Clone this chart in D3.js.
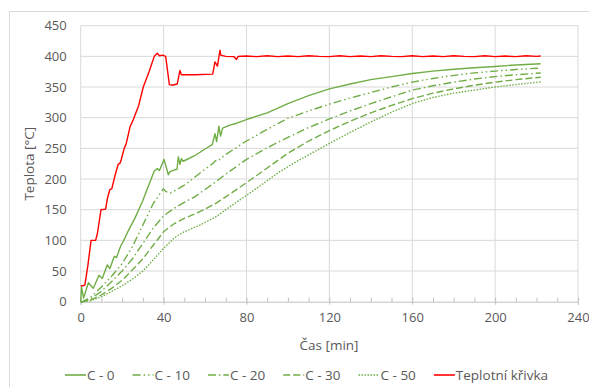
<!DOCTYPE html>
<html>
<head>
<meta charset="utf-8">
<script src="https://cdn.jsdelivr.net/npm/d3@7"></script>
<style>
  body { margin: 0; background: #fff; }
  text { font-family: "Open Sans", sans-serif; fill: #595959; }
</style>
</head>
<body>
<svg width="589" height="387"></svg>
<script>
let width = 589;
let height = 387;

// tick labels
let xTicks = [0, 40, 80, 120, 160, 200, 240];
let yTicks = [0, 50, 100, 150, 200, 250, 300, 350, 400, 450];

// series: [time min, temperature °C]
let c0 = [[0,0],[0.4,24],[1.4,6],[3.7,31],[6.1,22],[8.8,43],[10.4,38],[12.8,60],[14.1,54],[16.2,74],[17.3,72],[19.2,90],[20.8,100],[23,116],[26,135],[28,150],[30,165],[32,183],[34,200],[35.5,213],[37,217],[38,214],[40.2,232],[42.3,207],[43.1,212],[44.7,214],[46.5,216],[47.1,236],[47.9,224],[48.6,233],[49.5,229],[55,238],[60,249],[63.5,256],[64.8,274],[65.6,261],[66.7,286],[67.5,270],[68.5,283],[72,288],[75.3,291],[80,297],[90,308],[96,317],[100,323],[110,336],[120,347],[130,355],[140,362],[150,367],[160,372],[170,376],[180,379],[190,381.5],[200,383.5],[210,386],[222,388]];
let c10 = [[0,0],[1,0],[5,8],[10,24],[15,42],[20,62],[25,90],[30,125],[35,160],[39.9,184],[41,180],[43,177],[45,180],[50,190],[55,203],[60,216],[64,226],[65,230],[66,229],[70,240],[80,262],[90,281],[96,292],[100,299],[110,311],[120,322],[130,332],[140,341],[150,350],[160,358],[170,364],[180,369],[190,373],[200,376],[210,378.5],[222,381]];
let c20 = [[0,0],[1,0],[5,5],[10,17],[15,33],[20,50],[25,70],[30,95],[35,120],[40,140],[45,152],[50,162],[55,171],[60,183],[65,195],[70,208],[80,232],[90,251],[100,268],[110,284],[120,298],[130,311],[140,323],[150,334],[160,345],[170,352],[180,358],[190,363],[200,367],[210,370],[222,373]];
let c30 = [[0,0],[1,0],[5,3],[10,11],[15,22],[20,35],[25,52],[30,70],[35,92],[40,114],[45,127],[50,136],[55,143],[60,151],[65,160],[70,171],[80,194],[90,218],[100,242],[110,262],[120,279],[130,294],[140,308],[150,320],[160,331],[170,340],[180,347],[190,353],[200,358],[210,362],[222,366]];
let c50 = [[0,0],[1,0],[5,2],[10,8],[15,17],[20,26],[25,37],[30,50],[33.4,62],[40,87],[45.5,105],[50,114],[57.5,125],[65.6,139],[70,150],[76.8,166],[85,185],[96,212],[105,230],[120,258],[130,276],[140,293],[150,309],[160,323],[170,333],[180,340],[190,345],[200,350],[210,354],[222,358.5]];
let red = [[0,26],[1,26],[2,27],[3.5,60],[5,100],[7.2,100],[8,110],[9.8,150],[12,151],[13,170],[14.1,183],[15,184],[16.5,205],[18.1,224],[19,226],[19.5,231],[21,250],[22,258],[23.8,285],[25.4,297],[28,320],[30.2,350],[33,375],[35.5,400],[37,405],[38,401],[39.5,402],[41,400],[42.8,354],[44,353],[46.6,355],[47.9,377],[48.6,370],[55,370],[63.7,371],[64.8,391],[66,384],[67.2,410],[67.6,402],[70,400],[74,399.5],[75.2,395],[76,400],[80,400.5],[85,399.5],[90,401],[95,399.5],[100,400.5],[105,399.5],[110,401],[115,400],[120,399.5],[125,401],[130,399.5],[135,400.5],[140,399.5],[145,401],[150,400],[155,399.5],[160,401],[165,399.5],[170,400.5],[175,399.5],[180,401],[185,400],[190,399.5],[195,401],[200,399.5],[205,400.5],[210,399.5],[215,401],[220,400],[222,400.5]];

let seriesNames = ['C - 0', 'C - 10', 'C - 20', 'C - 30', 'C - 50', 'Teplotní křivka'];
let seriesData = [c0, c10, c20, c30, c50, red];
let seriesColors = ['#70ad47', '#70ad47', '#70ad47', '#70ad47', '#70ad47', '#ff0000'];
let seriesDash = [null, '8,3,1.5,3,1.5,3', '8,3,1.5,3', '7,3', '1.5,1.5', null];

let xScale = d3.scaleLinear().domain([0, 240]).range([80.7, 578]);
let yScale = d3.scaleLinear().domain([0, 450]).range([301.7, 25.7]);

let svg = d3.select('svg');

// outer chart border
svg.append('rect')
    .attr('x', 9.5).attr('y', 11.5)
    .attr('width', 600).attr('height', 400)
    .attr('fill', 'none')
    .attr('stroke', '#d9d9d9');

// gridlines
svg.append('g')
  .selectAll('line')
  .data(yTicks.slice(1))
  .enter()
  .append('line')
    .attr('x1', xScale(0)).attr('x2', xScale(240))
    .attr('y1', d => yScale(d)).attr('y2', d => yScale(d))
    .attr('stroke', '#d9d9d9');

svg.append('g')
  .selectAll('line')
  .data(xTicks)
  .enter()
  .append('line')
    .attr('x1', d => xScale(d)).attr('x2', d => xScale(d))
    .attr('y1', yScale(0)).attr('y2', yScale(450))
    .attr('stroke', '#d9d9d9');

// x axis line with minor ticks inside
svg.append('g')
    .attr('transform', `translate(0,${yScale(0)})`)
    .call(d3.axisTop(xScale).ticks(24).tickSize(4).tickFormat(''))
    .call(g => g.select('.domain').remove())
    .call(g => g.selectAll('line').attr('stroke', '#bfbfbf'));

svg.append('g')
    .attr('transform', `translate(0,${yScale(0)})`)
    .call(d3.axisBottom(xScale).tickValues(xTicks).tickSize(3).tickPadding(8))
    .call(g => g.select('.domain').attr('stroke', '#bfbfbf'))
    .call(g => g.selectAll('line').attr('stroke', '#bfbfbf'))
    .call(g => g.selectAll('text').style('font-size', '13px').attr('fill', '#595959').style('font-family', '"Open Sans", sans-serif'));

svg.append('g')
    .attr('transform', `translate(${xScale(0)},0)`)
    .call(d3.axisLeft(yScale).tickValues(yTicks).tickSize(0).tickPadding(14))
    .call(g => g.select('.domain').remove())
    .call(g => g.selectAll('text').style('font-size', '13px').attr('fill', '#595959').style('font-family', '"Open Sans", sans-serif'));

// axis titles
svg.append('text')
    .text('Čas [min]')
    .attr('x', 329).attr('y', 350)
    .attr('text-anchor', 'middle')
    .style('font-size', '13.5px');

svg.append('text')
    .text('Teplota [°C]')
    .attr('transform', `translate(34,${(yScale(0) + yScale(450)) / 2}) rotate(-90)`)
    .attr('text-anchor', 'middle')
    .style('font-size', '13.5px');

// lines
let line = d3.line()
    .x(d => xScale(d[0]))
    .y(d => yScale(d[1]));

svg.append('g')
  .selectAll('path')
  .data(seriesData)
  .enter()
  .append('path')
    .attr('d', line)
    .attr('fill', 'none')
    .attr('stroke', (d, i) => seriesColors[i])
    .attr('stroke-width', 1.4)
    .attr('stroke-linejoin', 'round')
    .attr('stroke-dasharray', (d, i) => seriesDash[i]);

// legend
let legend = svg.append('g');
let lx = 65;
seriesNames.forEach((name, i) => {
    legend.append('line')
        .attr('x1', lx).attr('x2', lx + 21)
        .attr('y1', 375).attr('y2', 375)
        .attr('stroke', seriesColors[i])
        .attr('stroke-width', 1.6)
        .attr('stroke-dasharray', seriesDash[i]);
    let t = legend.append('text')
        .text(name)
        .attr('x', lx + 22).attr('y', 380)
        .style('font-size', '13.5px');
    lx += 22 + t.node().getComputedTextLength() + 18;
});
</script>
</body>
</html>
